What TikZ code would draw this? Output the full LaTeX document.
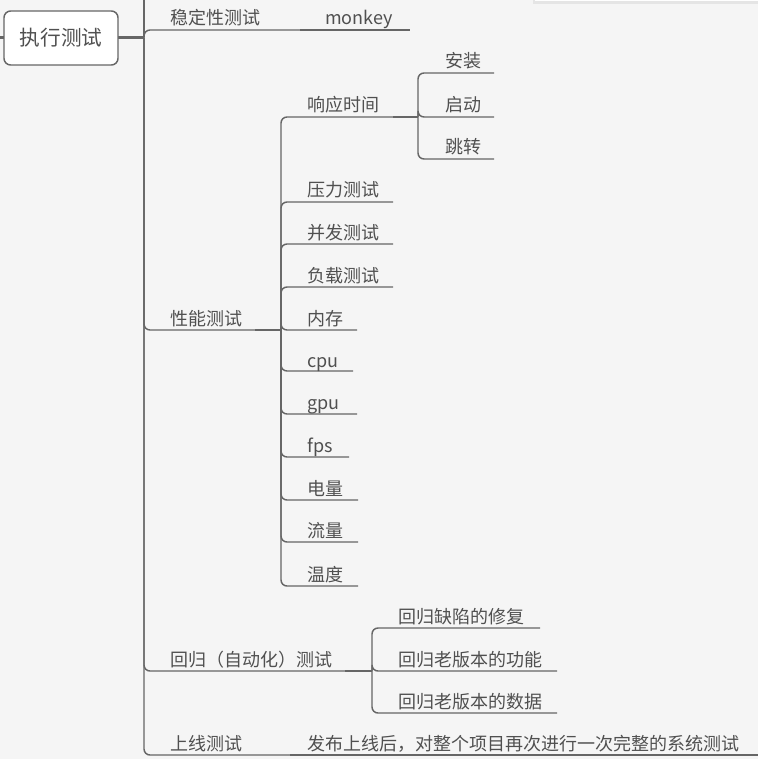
\documentclass[tikz,border=0pt]{standalone}
\usepackage{fontspec}
\newfontfamily\cjk{Noto Sans CJK SC}
\usetikzlibrary{calc}
\definecolor{bg}{HTML}{F5F5F5}
\definecolor{ln}{HTML}{666666}
\definecolor{tx}{HTML}{505050}
\tikzset{
  lbl/.style={anchor=base west, inner sep=0pt, text=tx, font=\cjk\fontsize{13.5}{16}\selectfont},
  rootbox/.style={draw=ln, fill=white, line width=1.1pt, rounded corners=5pt,
    minimum width=85.5pt, minimum height=40.5pt, text=tx, font=\cjk\fontsize{15.5}{18}\selectfont},
  uline/.style={draw=ln, line width=1.1pt},
  branch/.style={draw=ln, line width=1.1pt, rounded corners=4.5pt},
  joint/.style={draw=ln, line width=1.9pt},
}

\begin{document}
\begin{tikzpicture}[x=0.75pt,y=-0.75pt]
    \useasboundingbox (0,0) rectangle (758,759);
    \fill[bg] (0,0) rectangle (758,759);
    % panel edge at the top right
    \fill[black!10] (533,0) rectangle (758,4);
    \fill[white] (535,0) rectangle (758,1.5);

    % junctions and ends of the underlines
    \coordinate (In) at (0,37.5);
    \coordinate (Up) at (144,0);
    \coordinate (J0) at (144,37.5);
    \coordinate (J1) at (281,330);
    \coordinate (J2) at (418,117);
    \coordinate (J3) at (372,671);
    \coordinate (StabR) at (300,30);
    \coordinate (MonkeyR) at (410,30);
    \coordinate (PerfR) at (255,330);
    \coordinate (RespR) at (393,117);
    \coordinate (InstR) at (494,73);
    \coordinate (StartR) at (494,117);
    \coordinate (JumpR) at (494,159);
    \coordinate (PressR) at (393,202);
    \coordinate (ConcR) at (393,244);
    \coordinate (LoadR) at (393,287);
    \coordinate (MemR) at (357,330);
    \coordinate (CpuR) at (353,371);
    \coordinate (GpuR) at (357,414);
    \coordinate (FpsR) at (349,457);
    \coordinate (PowR) at (358,500);
    \coordinate (FlowR) at (358,542);
    \coordinate (TempR) at (358,586);
    \coordinate (RegR) at (345,671);
    \coordinate (FixR) at (540,628);
    \coordinate (FuncR) at (557,671);
    \coordinate (DataR) at (557,713);
    \coordinate (OnR) at (290,755);
    \coordinate (SysR) at (758,755);

    % lines
    \draw[joint] (In) -- (J0);
    \draw[uline] (J0) -- (Up);
    \draw[branch] (J0) |- (StabR);
    \draw[uline] (StabR) -- (MonkeyR);
    \draw[branch] (J0) |- (PerfR);
    \draw[joint] (PerfR) -- (J1);
    \draw[branch] (J1) |- (RespR);
    \draw[joint] (RespR) -- (J2);
    \draw[branch] (J2) |- (InstR);
    \draw[branch] (J2) |- (StartR);
    \draw[branch] (J2) |- (JumpR);
    \draw[branch] (J1) |- (PressR);
    \draw[branch] (J1) |- (ConcR);
    \draw[branch] (J1) |- (LoadR);
    \draw[branch] (J1) |- (MemR);
    \draw[branch] (J1) |- (CpuR);
    \draw[branch] (J1) |- (GpuR);
    \draw[branch] (J1) |- (FpsR);
    \draw[branch] (J1) |- (PowR);
    \draw[branch] (J1) |- (FlowR);
    \draw[branch] (J1) |- (TempR);
    \draw[branch] (J0) |- (RegR);
    \draw[joint] (RegR) -- (J3);
    \draw[branch] (J3) |- (FixR);
    \draw[branch] (J3) |- (FuncR);
    \draw[branch] (J3) |- (DataR);
    \draw[branch] (J0) |- (OnR);
    \draw[uline] (OnR) -- (SysR);

    % topics
    \node[rootbox] (Root) at (61,38) {执行测试};
    \node[lbl] (Stab) at (170,25) {稳定性测试};
    \node[lbl] (Monkey) at (325,25) {monkey};
    \node[lbl] (Perf) at (170,325) {性能测试};
    \node[lbl] (Resp) at (307,112) {响应时间};
    \node[lbl] (Inst) at (445,68) {安装};
    \node[lbl] (Start) at (445,112) {启动};
    \node[lbl] (Jump) at (445,154) {跳转};
    \node[lbl] (Press) at (307,197) {压力测试};
    \node[lbl] (Conc) at (307,239) {并发测试};
    \node[lbl] (Load) at (307,282) {负载测试};
    \node[lbl] (Mem) at (307,325) {内存};
    \node[lbl] (Cpu) at (307,367) {cpu};
    \node[lbl] (Gpu) at (307,409) {gpu};
    \node[lbl] (Fps) at (307,452) {fps};
    \node[lbl] (Pow) at (307,495) {电量};
    \node[lbl] (Flow) at (307,537) {流量};
    \node[lbl] (Temp) at (307,581) {温度};
    \node[lbl] (Reg) at (170,666) {回归（自动化）测试};
    \node[lbl] (Fix) at (398,623) {回归缺陷的修复};
    \node[lbl] (Func) at (398,666) {回归老版本的功能};
    \node[lbl] (Data) at (398,708) {回归老版本的数据};
    \node[lbl] (On) at (170,750) {上线测试};
    \node[lbl] (Sys) at (307,750) {发布上线后，对整个项目再次进行一次完整的系统测试};
\end{tikzpicture}
\end{document}
